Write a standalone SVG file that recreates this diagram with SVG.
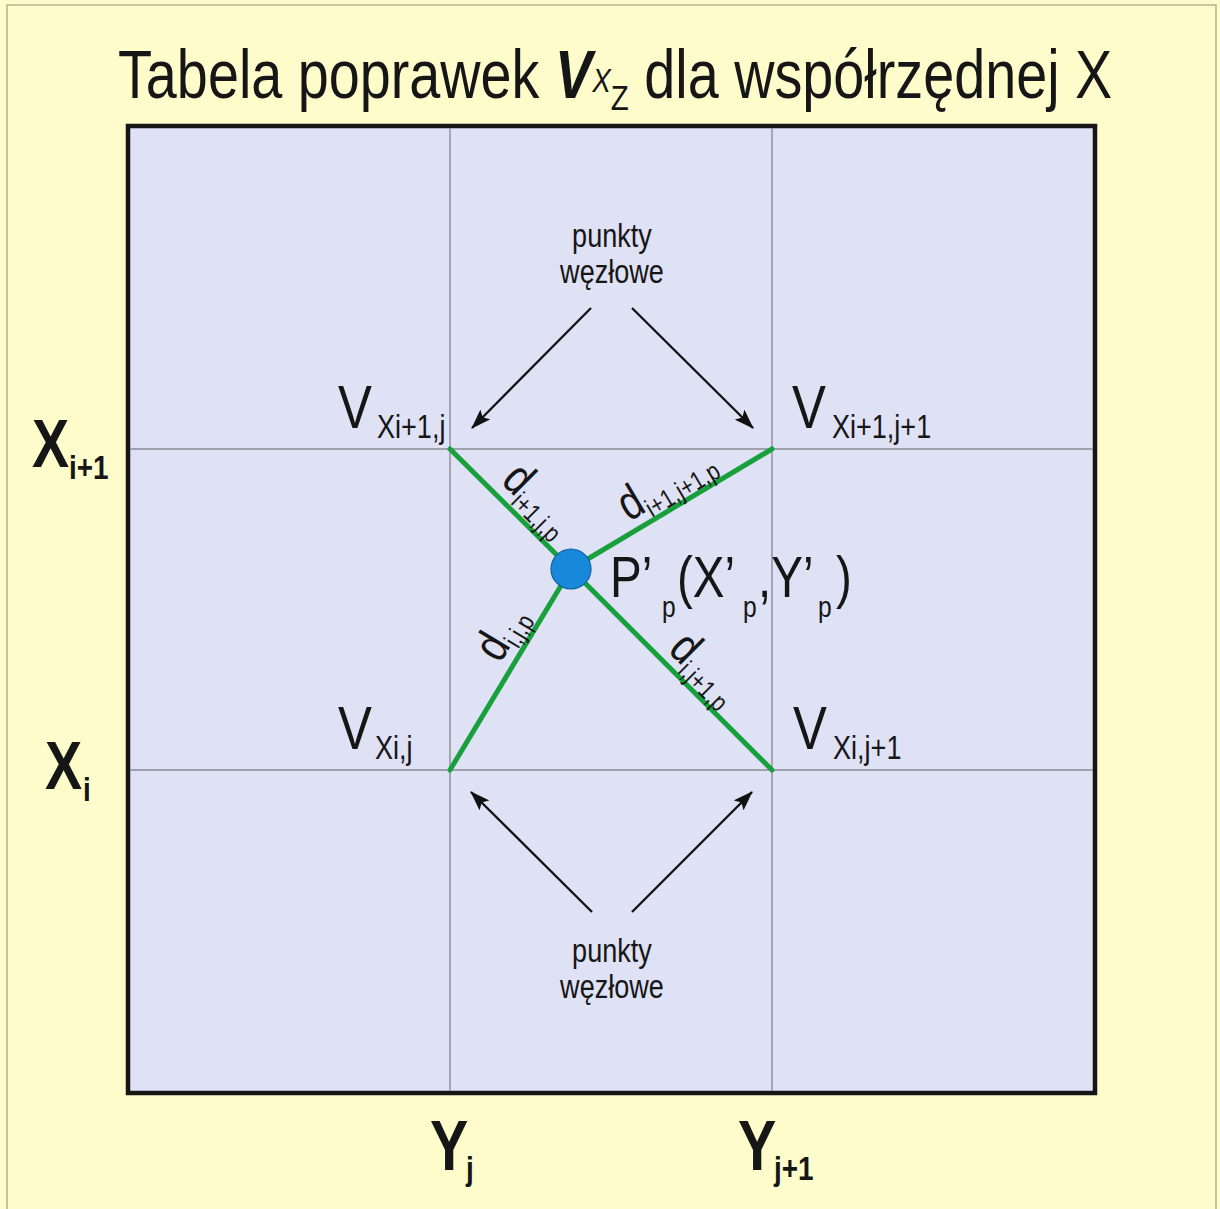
<svg xmlns="http://www.w3.org/2000/svg" width="1220" height="1209" viewBox="0 0 1220 1209">
<defs>
<style>
.t{font-family:"Liberation Sans Narrow","Liberation Sans",Arial,sans-serif;fill:#161616}
.b{font-weight:bold}
.grid{stroke:#8c8c98;stroke-width:1.4;fill:none}
.green{stroke:#17a03c;stroke-width:5;stroke-linecap:round;fill:none}
.arrow{stroke:#111;stroke-width:2.3;fill:none;marker-end:url(#ah)}
</style>
<marker id="ah" markerUnits="userSpaceOnUse" viewBox="0 0 20 14" markerWidth="20" markerHeight="14" refX="19" refY="7" orient="auto"><path d="M0,0 L20,7 L0,14 L4,7 z" fill="#111"/></marker>
</defs>
<rect x="0" y="0" width="1220" height="1209" fill="#fffccc"/>
<rect x="7" y="5" width="1209" height="1212" fill="none" stroke="#b4b294" stroke-width="1.5"/>
<g id="title">
<text class="t" x="143.9" y="98" font-size="68" transform="scale(0.82,1)">Tabela poprawek <tspan font-weight="bold" font-style="italic">V</tspan><tspan font-style="italic" font-size="34" dy="-6">X</tspan><tspan font-size="36" dy="18">Z</tspan><tspan dy="-12"> dla współrzędnej X</tspan></text>
</g>
<g id="table">
<rect x="128" y="126" width="967" height="967" fill="#dfe1f5" stroke="#161616" stroke-width="4.5"/>
<path class="grid" d="M450,128 V1091 M772,128 V1091 M130,449 H1093 M130,770 H1093"/>
</g>
<g id="connectors">
<path class="green" d="M450,449 L571,569 L772,449 M450,770 L571,569 L772,770"/>
<line class="arrow" x1="591" y1="308" x2="472" y2="428"/>
<line class="arrow" x1="632" y1="308" x2="753" y2="428"/>
<line class="arrow" x1="592" y1="912" x2="471" y2="792"/>
<line class="arrow" x1="632" y1="912" x2="752" y2="792"/>
</g>
<g id="point-P">
<circle cx="571" cy="569" r="20" fill="#1788da" stroke="#0d5f9f" stroke-width="1.2"/>
<text class="t" font-size="58" transform="scale(0.82,1)"><tspan x="743.9" y="597">P’</tspan><tspan x="807.3" y="617" font-size="30">p</tspan><tspan x="825.6" y="597">(X’</tspan><tspan x="906.1" y="617" font-size="30">p</tspan><tspan x="924.4" y="597">,Y’</tspan><tspan x="997.6" y="617" font-size="30">p</tspan><tspan x="1019.5" y="597">)</tspan></text>
</g>
<g id="node-top">
<text class="t" font-size="33" text-anchor="middle" transform="scale(0.82,1)"><tspan x="746.3" y="247">punkty</tspan><tspan x="746.3" y="283">węzłowe</tspan></text>
</g>
<g id="node-bottom">
<text class="t" font-size="33" text-anchor="middle" transform="scale(0.82,1)"><tspan x="746.3" y="962">punkty</tspan><tspan x="746.3" y="998">węzłowe</tspan></text>
</g>
<g id="V-i1-j">
<text class="t" font-size="62" transform="scale(0.82,1)"><tspan x="412.2" y="428">V</tspan><tspan x="459.8" y="438" font-size="33">Xi+1,j</tspan></text>
</g>
<g id="V-i1-j1">
<text class="t" font-size="62" transform="scale(0.82,1)"><tspan x="965.9" y="428">V</tspan><tspan x="1014.6" y="438" font-size="33">Xi+1,j+1</tspan></text>
</g>
<g id="V-i-j">
<text class="t" font-size="62" transform="scale(0.82,1)"><tspan x="412.2" y="749">V</tspan><tspan x="457.3" y="759" font-size="33">Xi,j</tspan></text>
</g>
<g id="V-i-j1">
<text class="t" font-size="62" transform="scale(0.82,1)"><tspan x="967.1" y="749">V</tspan><tspan x="1015.9" y="759" font-size="33">Xi,j+1</tspan></text>
</g>
<g id="d-labels">
<text class="t" font-size="48" transform="translate(500,482) rotate(45) scale(0.82,1)">d<tspan font-size="26" dy="8">i+1,j,p</tspan></text>
<text class="t" font-size="48" transform="translate(629,522) rotate(-30.8) scale(0.82,1)">d<tspan font-size="26" dy="8">i+1,j+1,p</tspan></text>
<text class="t" font-size="48" transform="translate(500,664) rotate(-58.9) scale(0.82,1)">d<tspan font-size="26" dy="8">i,j,p</tspan></text>
<text class="t" font-size="48" transform="translate(667,651) rotate(45) scale(0.82,1)">d<tspan font-size="26" dy="8">i,j+1,p</tspan></text>
</g>
<g id="axis-labels">
<text class="t b" font-size="68" transform="scale(0.82,1)"><tspan x="39" y="467">X</tspan><tspan x="84.1" y="479" font-size="34">i+1</tspan></text>
<text class="t b" font-size="68" transform="scale(0.82,1)"><tspan x="54.9" y="789">X</tspan><tspan x="101.2" y="801" font-size="34">i</tspan></text>
<text class="t b" font-size="70" transform="scale(0.82,1)"><tspan x="524.4" y="1170">Y</tspan><tspan x="568.3" y="1180" font-size="34">j</tspan></text>
<text class="t b" font-size="70" transform="scale(0.82,1)"><tspan x="900" y="1170">Y</tspan><tspan x="943.9" y="1180" font-size="34">j+1</tspan></text>
</g>
</svg>
